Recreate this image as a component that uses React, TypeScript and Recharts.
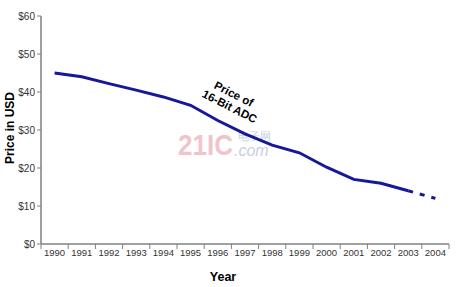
import { LineChart, Line, XAxis, YAxis } from 'recharts';

const years = [1990, 1991, 1992, 1993, 1994, 1995, 1996, 1997, 1998, 1999, 2000, 2001, 2002, 2003, 2004];
const prices = [45, 44, 42.2, 40.5, 38.7, 36.5, 32.5, 29, 26, 24, 20.2, 17, 16, 14, 12];
const yTicks = [0, 10, 20, 30, 40, 50, 60];
const lastSolid = 13; // 2003, the rest is estimated

const data = years.map((year, i) => ({
  year,
  actual: i <= lastSolid ? prices[i] : null,
  forecast: i >= lastSolid ? prices[i] : null,
}));

const W = 464;
const H = 287;
const FONT = '"Liberation Sans", Arial, sans-serif';
const GRAY = '#808080';
const LINE = '#17179a';
const halfBand = (449 - 41) / years.length / 2;

const YearTick = (props: any) => {
  const { x, y, payload, index } = props;
  const isLast = index === years.length - 1;
  return (
    <g>
      <line x1={x - halfBand} y1={y} x2={x - halfBand} y2={y + 5} stroke={GRAY} />
      {isLast && <line x1={x + halfBand} y1={y} x2={x + halfBand} y2={y + 5} stroke={GRAY} />}
      <text x={x} y={y + 12} textAnchor="middle" fontSize={9.5} fill="#333" fontFamily={FONT}>
        {payload.value}
      </text>
    </g>
  );
};

export default function App() {
  return (
    <div style={{ position: 'absolute', left: 0, top: 0, width: W, height: H, background: '#fff' }}>
      <LineChart width={W} height={H} data={data} margin={{ top: 16, right: 15, bottom: 0, left: 0 }}>
        <XAxis
          dataKey="year"
          type="number"
          domain={[1989.5, 2004.5]}
          ticks={years}
          tickLine={false}
          tickSize={0}
          tickMargin={0}
          tick={<YearTick />}
          axisLine={{ stroke: GRAY, strokeWidth: 1.5 }}
          height={43}
          interval={0}
        />
        <XAxis
          xAxisId="top"
          orientation="top"
          dataKey="year"
          type="number"
          domain={[1989.5, 2004.5]}
          tick={false}
          tickLine={false}
          axisLine={{ stroke: GRAY }}
          height={0}
        />
        <YAxis
          domain={[0, 60]}
          ticks={yTicks}
          width={41}
          tickFormatter={(v: number) => `$${v}`}
          tick={{ fontSize: 10, fill: '#333', fontFamily: FONT }}
          tickSize={4}
          tickLine={{ stroke: GRAY }}
          axisLine={{ stroke: GRAY, strokeWidth: 1.5 }}
        />
        <YAxis
          yAxisId="right"
          orientation="right"
          domain={[0, 60]}
          tick={false}
          tickLine={false}
          axisLine={{ stroke: GRAY }}
          width={0}
        />
        <Line
          dataKey="actual"
          stroke={LINE}
          strokeWidth={3}
          dot={false}
          type="linear"
          connectNulls={false}
          isAnimationActive={false}
        />
        <Line
          dataKey="forecast"
          stroke={LINE}
          strokeWidth={3}
          strokeDasharray="5 7"
          dot={false}
          type="linear"
          isAnimationActive={false}
        />
        <text
          x={10}
          y={128}
          transform="rotate(-90 10 128)"
          textAnchor="middle"
          dominantBaseline="central"
          fontSize={12}
          fontWeight="bold"
          fontFamily={FONT}
          fill="#000"
        >
          Price in USD
        </text>
        <text x={223} y={281} textAnchor="middle" fontSize={12.5} fontWeight="bold" fontFamily={FONT} fill="#000">
          Year
        </text>
        <g opacity={0.5} fontFamily={FONT}>
          <text x={178} y={155} fontSize={26} fontWeight="bold" fill="#e48a98" transform="translate(0 -20) scale(1 1.13)">
            21IC
          </text>
          <text x={238} y={140} fontSize={11} fill="#8fa0c8">
            电子网
          </text>
          <text x={234} y={156} fontSize={16} fontStyle="italic" fill="#8fa0c8">
            .com
          </text>
        </g>
        <g transform="rotate(27 232 102)" fontFamily={FONT} fontWeight="bold" fontSize={11.5} fill="#000">
          <text x={230} y={98} textAnchor="middle">
            Price of
          </text>
          <text x={232} y={111} textAnchor="middle">
            16-Bit ADC
          </text>
        </g>
      </LineChart>
    </div>
  );
}
